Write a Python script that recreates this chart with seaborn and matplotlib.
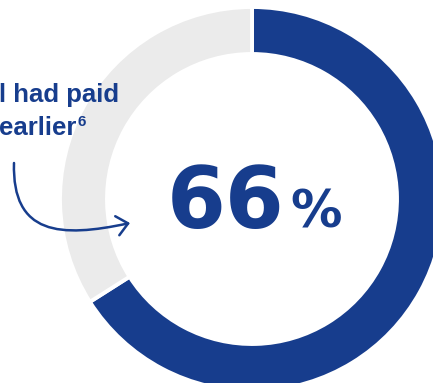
import matplotlib
matplotlib.use("Agg")
import matplotlib.pyplot as plt
import seaborn as sns
from matplotlib.patches import FancyArrowPatch
from matplotlib.path import Path

sns.set_theme(style="white")
plt.rcParams['font.family'] = ['DejaVu Sans']

categories = ["Had paid earlier", "Other"]
values = [66, 34]
big_label = "66"
pct_sign = "%"
note_lines = ["l had paid", "earlier"]
note_sup = "6"

BLUE = "#173d8d"
GRAY = "#ebebeb"

W, H = 433, 383
fig = plt.figure(figsize=(W / 100, H / 100), dpi=100)
ax = fig.add_axes([0, 0, 1, 1])
ax.set_xlim(0, W)
ax.set_ylim(0, H)
ax.set_aspect("equal")
ax.axis("off")

cx, cy = 252, H - 199
R = 192
ax.pie(values, colors=[BLUE, GRAY], startangle=90, counterclock=False,
       center=(cx, cy), radius=R,
       wedgeprops=dict(width=47, edgecolor="white", linewidth=2.8))
ax.set_xlim(0, W)
ax.set_ylim(0, H)

ax.text(226, H - 228, big_label, fontsize=61, fontfamily="DejaVu Sans", fontweight="bold",
        color=BLUE, ha="center", va="baseline")
ax.text(316, H - 228, pct_sign, fontsize=37, fontfamily="DejaVu Sans", fontweight="bold",
        color=BLUE, ha="center", va="baseline")

note_font = ["Liberation Sans", "DejaVu Sans"]
ax.text(-1, H - 102, note_lines[0], fontsize=18.5, family=note_font, fontweight="bold",
        color=BLUE, ha="left", va="baseline")
ax.text(-1, H - 135, note_lines[1], fontsize=18.5, family=note_font, fontweight="bold",
        color=BLUE, ha="left", va="baseline")
ax.text(77, H - 126, note_sup, fontsize=11, family=note_font, fontweight="bold",
        color=BLUE, ha="left", va="baseline")

verts = [(14, H - 163), (12, H - 235), (60, H - 238), (130, H - 223)]
codes = [Path.MOVETO, Path.CURVE4, Path.CURVE4, Path.CURVE4]
arrow = FancyArrowPatch(path=Path(verts, codes),
                        arrowstyle="->,head_length=8,head_width=7",
                        color=BLUE, lw=1.8, mutation_scale=1,
                        capstyle="round", joinstyle="round")
ax.add_patch(arrow)

fig.savefig("out.png", dpi=100)
